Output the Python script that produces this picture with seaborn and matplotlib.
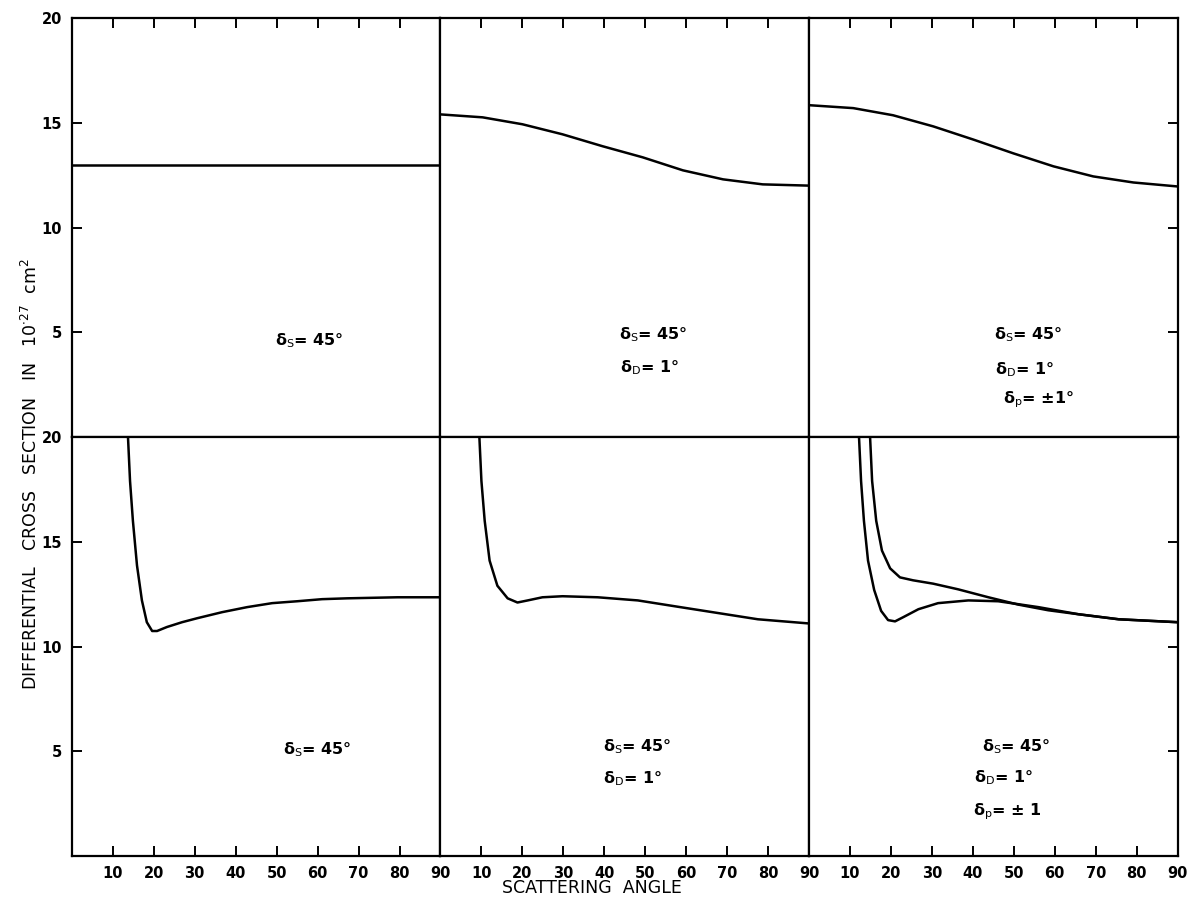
import matplotlib
matplotlib.use("Agg")
import matplotlib.pyplot as plt
import seaborn as sns
import pandas as pd

sns.set_style("ticks")
plt.rcParams['font.family'] = ['DejaVu Sans']
plt.rcParams['mathtext.fontset'] = 'dejavusans'
plt.rcParams['text.color'] = 'black'
plt.rcParams['axes.labelcolor'] = 'black'

# ---- data ----
# top row
tl_x = [0, 90]
tl_y = [13.0, 13.0]

tm_x = [0, 10.3, 20, 29.8, 39.6, 49.4, 59.2, 69, 78.7, 90]
tm_y = [15.4, 15.26, 14.93, 14.45, 13.88, 13.35, 12.73, 12.3, 12.06, 12.0]

tr_x = [0, 10.8, 20.5, 30.3, 40.1, 49.9, 59.7, 69.4, 79.2, 90]
tr_y = [15.84, 15.7, 15.36, 14.83, 14.2, 13.54, 12.92, 12.44, 12.15, 11.96]

# bottom row
bl_x = [13.7, 14.2, 14.9, 15.9, 17.1, 18.3, 19.6, 20.8, 23.2, 26.9, 30.6, 36.7,
        42.8, 48.9, 55.0, 61.1, 67.2, 79.5, 90]
bl_y = [20.0, 17.9, 16.0, 13.87, 12.2, 11.16, 10.74, 10.74, 10.93, 11.16, 11.35,
        11.64, 11.88, 12.07, 12.16, 12.26, 12.3, 12.35, 12.35]

bm_x = [9.5, 10.0, 10.8, 12.0, 13.9, 16.4, 18.8, 21.3, 24.9, 29.8, 38.4, 48.2,
        57.9, 67.7, 77.5, 90]
bm_y = [20.0, 17.9, 16.0, 14.1, 12.9, 12.3, 12.1, 12.2, 12.35, 12.4, 12.35, 12.2,
        11.9, 11.6, 11.3, 11.1]

br_a_x = [12.2, 12.7, 13.4, 14.4, 15.9, 17.6, 19.3, 21.0, 23.0, 26.7, 31.5, 38.9,
          46.2, 56.0, 65.8, 75.6, 90]
br_a_y = [20.0, 17.9, 16.0, 14.1, 12.7, 11.7, 11.26, 11.2, 11.4, 11.78, 12.07,
          12.2, 12.16, 11.88, 11.54, 11.3, 11.16]

br_b_x = [14.9, 15.4, 16.4, 17.8, 19.8, 22.2, 25.4, 30.3, 36.4, 43.8, 51.1, 58.4,
          65.8, 75.6, 90]
br_b_y = [20.0, 17.9, 16.0, 14.58, 13.73, 13.3, 13.16, 13.0, 12.73, 12.35, 12.0,
          11.73, 11.54, 11.3, 11.16]

x_ticks = [10, 20, 30, 40, 50, 60, 70, 80, 90]
y_ticks = [5, 10, 15, 20]

label_s = r"δ$_\mathrm{S}$= 45°"
label_d = r"δ$_\mathrm{D}$= 1°"
label_p1 = r"δ$_\mathrm{p}$= ±1°"
label_p2 = r"δ$_\mathrm{p}$= ± 1"

panels = [
    [[(tl_x, tl_y)], [(58, 4.6, label_s)]],
    [[(tm_x, tm_y)], [(52, 4.9, label_s), (51, 3.3, label_d)]],
    [[(tr_x, tr_y)], [(53.5, 4.9, label_s), (52.5, 3.2, label_d), (56, 1.8, label_p1)]],
    [[(bl_x, bl_y)], [(60, 5.1, label_s)]],
    [[(bm_x, bm_y)], [(48, 5.2, label_s), (47, 3.7, label_d)]],
    [[(br_a_x, br_a_y), (br_b_x, br_b_y)],
     [(50.5, 5.2, label_s), (47.5, 3.75, label_d), (48.5, 2.1, label_p2)]],
]

fig, axes = plt.subplots(2, 3, figsize=(11.98, 9.02), dpi=100,
                         gridspec_kw=dict(wspace=0, hspace=0))
fig.subplots_adjust(left=0.06, right=0.983, top=0.98, bottom=0.051)

for idx, ax in enumerate(axes.flat):
    row, col = divmod(idx, 3)
    curves, texts = panels[idx]
    for cx, cy in curves:
        df = pd.DataFrame({"x": cx, "y": cy})
        sns.lineplot(data=df, x="x", y="y", ax=ax, color="black", lw=1.8,
                     estimator=None, sort=False, legend=False)
    for tx, ty, s in texts:
        ax.text(tx, ty, s, ha="center", va="center", fontsize=11.5,
                fontweight="bold", color="black")
    ax.set_xlim(0, 90)
    ax.set_ylim(0, 20)
    ax.set_xlabel("")
    ax.set_ylabel("")
    for sp in ax.spines.values():
        sp.set_visible(True)
        sp.set_linewidth(1.6)
        sp.set_color("black")
    ax.set_xticks(x_ticks)
    ax.set_yticks(y_ticks)
    ax.tick_params(direction="in", length=7, width=1.4, colors="black",
                   labelsize=10.5, pad=7)
    if row == 0:
        ax.tick_params(axis="x", bottom=False, top=True, labelbottom=False)
        ax.set_xticks([10, 20, 30, 40, 50, 60, 70, 80])
    else:
        ax.tick_params(axis="x", bottom=True, top=False, labelbottom=True)
    if col == 0:
        ax.tick_params(axis="y", left=True, labelleft=True, right=False)
    elif col == 1:
        ax.tick_params(axis="y", left=False, labelleft=False, right=False)
    else:
        ax.tick_params(axis="y", left=False, labelleft=False, right=True,
                       labelright=False)
        ax.set_yticks([5, 10, 15])
    for lab in ax.get_xticklabels() + ax.get_yticklabels():
        lab.set_fontweight("bold")

fig.text(0.026, 0.475, r"DIFFERENTIAL   CROSS   SECTION   IN   10$^{\cdot 27}$  cm$^2$",
         rotation=90, ha="center", va="center", fontsize=12.5, color="black")
fig.text(0.494, 0.016, "SCATTERING  ANGLE", ha="center", va="center",
         fontsize=12.5, color="black")

fig.savefig("out.png", dpi=100)
